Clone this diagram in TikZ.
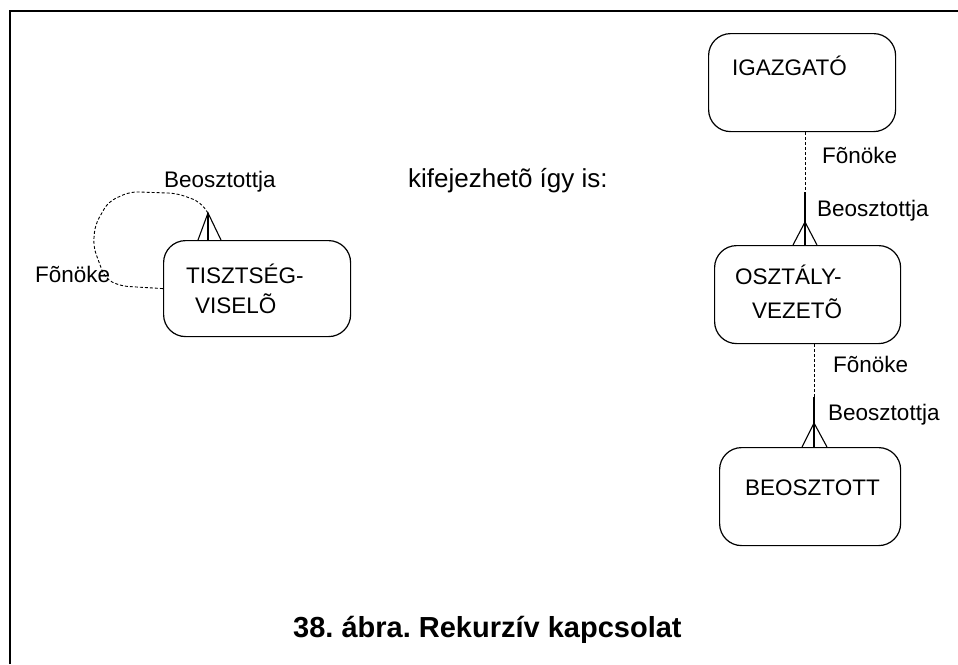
\documentclass[tikz,border=0pt]{standalone}
\usepackage{fontspec}
\setmainfont{Liberation Sans}
\usetikzlibrary{calc}
\frenchspacing
\begin{document}
\begin{tikzpicture}[x=1pt,y=-1pt,
  box/.style={draw, line width=1.2pt, rounded corners=22pt, inner sep=0pt, anchor=north west},
  lbl/.style={anchor=base west, inner sep=0pt, font=\fontsize{22.5}{27}\selectfont},
  dsh/.style={line width=0.9pt, dash pattern=on 3pt off 2pt},
  sol/.style={line width=1.1pt}]
\useasboundingbox (0,0) rectangle (958,664);
\fill[white] (0,0) rectangle (958,664);
\draw[line width=2pt] (10,664) -- (10,11) -- (958,11);

% left: recursive relationship
\node[box, minimum width=187pt, minimum height=96pt] (tv) at (163,240) {};
\node[lbl] (tvt1) at (186,283) {TISZTSÉG-};
\node[lbl] (tvt2) at (195,313) {VISELÕ};
\coordinate (tva) at (208,213);
\draw[sol] (tva) -- (tva |- tv.north);
\draw[sol] ($(tva |- tv.north)+(-10,0)$) -- (tva) -- ($(tva |- tv.north)+(13,0)$);
\draw[dsh, rounded corners=8pt] (tva) -- (200,201.7) -- (176.7,193.3) -- (130,191.7) -- (108.3,201.7) -- (95,225) -- (93.3,246.7) -- (105,278.3) -- (120,286) -- (tv.west);
\node[lbl] (tvb) at (164,187) {Beosztottja};
\node[lbl] (tvf) at (35,282) {Fõnöke};

% middle text
\node[anchor=base west, inner sep=0pt, font=\fontsize{26}{31}\selectfont] (kif) at (408,187) {kifejezhetõ így is:};

% right: hierarchy
\node[box, minimum width=187pt, minimum height=98pt] (ig) at (708,33) {};
\node[lbl] (igt) at (732,75) {IGAZGATÓ};
\node[box, minimum width=186pt, minimum height=98pt] (ov) at (714,245) {};
\node[lbl] (ovt1) at (735,284) {OSZTÁLY-};
\node[lbl] (ovt2) at (752,318) {VEZETÕ};
\node[box, minimum width=181pt, minimum height=98pt] (be) at (719,447) {};
\node[lbl] (bet) at (745,495) {BEOSZTOTT};

% connector 1
\coordinate (c1) at (805,192);
\coordinate (a1) at (805,222);
\draw[dsh] (ig.south -| c1) -- (c1);
\draw[sol] (c1) -- (ov.north -| c1);
\draw[sol] ($(ov.north -| a1)+(-12,0)$) -- (a1) -- ($(ov.north -| a1)+(12,0)$);
\node[lbl] (f1) at (822,163) {Fõnöke};
\node[lbl] (b1) at (817,216) {Beosztottja};

% connector 2
\coordinate (c2) at (814,397);
\coordinate (a2) at (814,423);
\draw[dsh] (ov.south -| c2) -- (c2);
\draw[sol] (c2) -- (be.north -| c2);
\draw[sol] ($(be.north -| a2)+(-12,0)$) -- (a2) -- ($(be.north -| a2)+(13,0)$);
\node[lbl] (f2) at (833,372) {Fõnöke};
\node[lbl] (b2) at (828,420) {Beosztottja};

% caption
\node[anchor=base west, inner sep=0pt, font=\fontsize{29}{34}\selectfont\bfseries] (cap) at (293,637) {38. ábra. Rekurzív kapcsolat};
\end{tikzpicture}
\end{document}
